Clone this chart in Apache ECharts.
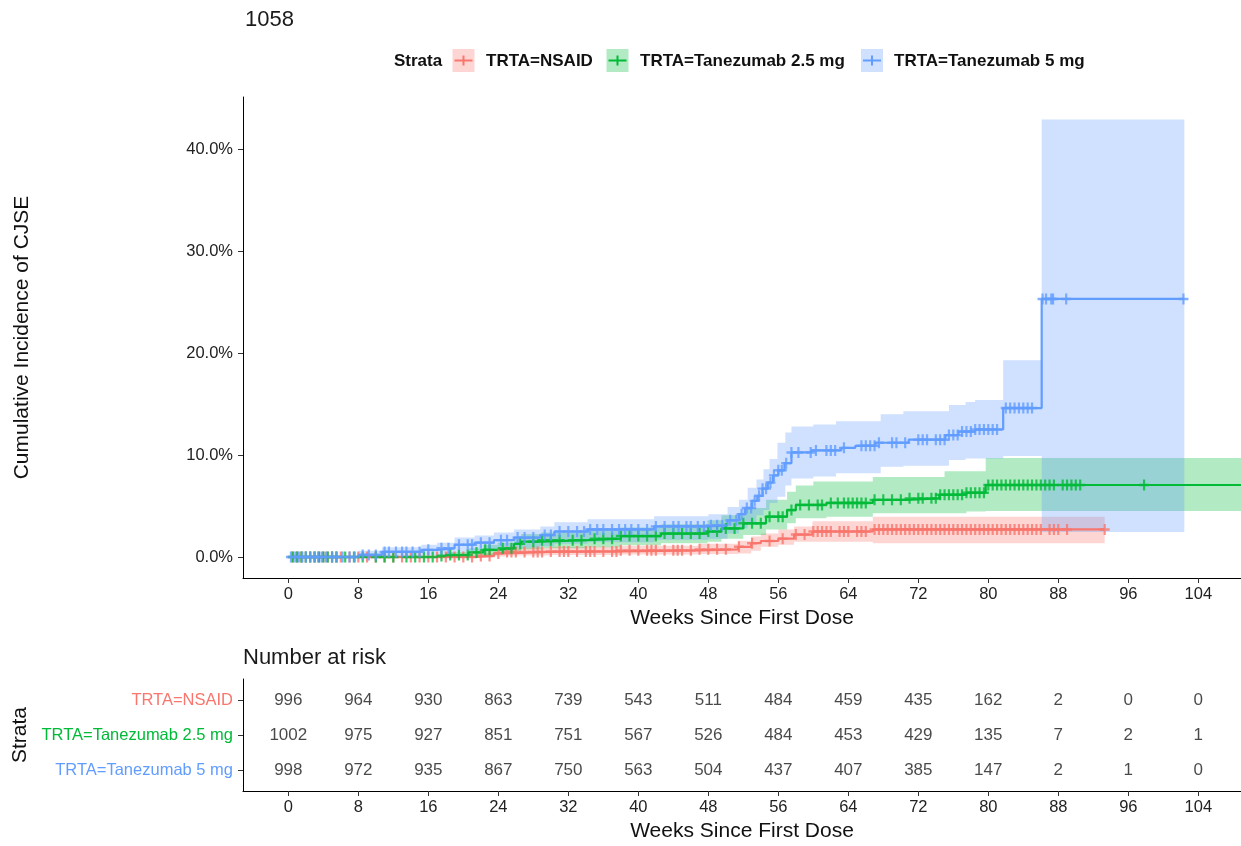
<!DOCTYPE html>
<html><head><meta charset="utf-8">
<script src="https://cdn.jsdelivr.net/npm/echarts@6/dist/echarts.min.js"></script>
<style>html,body{margin:0;padding:0;background:#fff}#c{width:1241px;height:846px}</style>
</head><body><div id="c"></div><script>
// ---------------- DATA ----------------
const strata = ['TRTA=NSAID', 'TRTA=Tanezumab 2.5 mg', 'TRTA=Tanezumab 5 mg'];
const weekTicks = [0, 8, 16, 24, 32, 40, 48, 56, 64, 72, 80, 88, 96, 104];
const pctTicks = [0, 10, 20, 30, 40];

// Number at risk
const riskNSAID = [996, 964, 930, 863, 739, 543, 511, 484, 459, 435, 162, 2, 0, 0];
const riskTan25 = [1002, 975, 927, 851, 751, 567, 526, 484, 453, 429, 135, 7, 2, 1];
const riskTan5  = [998, 972, 935, 867, 750, 563, 504, 437, 407, 385, 147, 2, 1, 0];

// Cumulative incidence step curves [week, %]
const stepNSAID = [[0,0],[21.5,0.1],[23.5,0.35],[24.8,0.5],[30,0.55],[38,0.65],[47,0.75],[51.4,1.0],[52.9,1.35],[54,1.57],[56,1.8],[57.8,2.2],[59.9,2.5],[66.8,2.7],[93.3,2.7]];
const stepTan25 = [[0,0],[17,0.1],[18,0.2],[20.6,0.45],[22.3,0.7],[23.9,0.85],[25.8,1.3],[26.6,1.5],[28.9,1.65],[34.2,1.8],[38,2.05],[42.6,2.3],[47.9,2.5],[49.5,2.8],[52,3.3],[54.6,3.95],[57,4.6],[58,5.1],[61.5,5.3],[66.8,5.6],[70.6,5.75],[74.4,6.1],[77.5,6.3],[79.7,7.06],[110,7.06]];
const stepTan5  = [[0,0],[8,0.2],[10.7,0.5],[15.2,0.7],[17,0.85],[19,1.2],[21.3,1.4],[23.5,1.65],[25.8,1.9],[28.8,2.15],[30.4,2.5],[34.2,2.7],[41.8,3.0],[48,3.1],[50.2,3.6],[51.5,4.2],[52.2,4.8],[53,5.5],[53.6,6.0],[54.2,6.7],[54.8,7.3],[55.4,8.0],[56,8.5],[56.7,9.2],[57.5,10.25],[59.8,10.45],[63.2,10.7],[64.8,10.9],[67.1,11.2],[70.9,11.5],[75.1,11.95],[76.6,12.3],[78.5,12.5],[81.7,14.6],[86.1,25.3],[102.4,25.3]];

// Confidence bands [week, lower %, upper %]
const bandNSAID = [[0,0,0],[21.5,0,0.4],[23.5,0.05,0.75],[24.8,0.15,0.9],[30,0.2,1.0],[38,0.25,1.1],[47,0.3,1.3],[51.4,0.35,1.6],[52.9,0.6,2.0],[54,1.0,2.3],[56,1.2,2.7],[57.8,1.5,3.0],[59.9,1.5,3.5],[66.8,1.35,3.95],[93.3,1.35,3.95]];
const bandTan25 = [[0,0,0],[17,0,0.3],[18,0,0.5],[20.6,0.05,0.85],[22.3,0.2,1.2],[23.9,0.3,1.4],[25.8,0.6,2.0],[26.6,0.75,2.25],[28.9,0.85,2.4],[34.2,0.95,2.6],[38,1.15,2.9],[42.6,1.35,3.2],[47.9,1.5,3.6],[49.5,1.8,4.1],[52,2.15,4.8],[54.6,2.7,5.6],[57,3.3,6.4],[58,3.8,7.0],[60,3.8,7.4],[61.5,3.95,7.4],[66.8,4.3,7.85],[75,4.3,8.4],[77.5,4.45,8.4],[79.7,4.5,9.7],[110,4.5,9.7]];
const bandTan5  = [[0,0,0],[8,0,0.6],[10.7,0.05,0.95],[15.2,0.15,1.2],[17,0.2,1.4],[19,0.45,1.9],[21.3,0.55,2.1],[23.5,0.75,2.4],[25.8,0.9,2.7],[28.8,1.05,3.0],[30.4,1.3,3.4],[34.2,1.45,3.7],[41.8,1.7,4.0],[48,1.8,4.2],[50.2,2.3,4.9],[51.5,2.8,5.6],[52.5,3.4,6.8],[53.5,4.1,7.6],[54.3,4.6,8.6],[55,5.3,9.6],[55.9,5.9,11.2],[56.8,7.0,12.2],[57.5,7.7,12.8],[60,7.9,13.0],[62.6,8.2,13.3],[67.7,8.85,14.0],[70.3,8.95,14.3],[75.5,9.5,14.9],[77.4,9.65,15.2],[78.5,9.65,15.4],[81.7,9.9,19.3],[86.1,2.45,42.9],[102.4,2.45,42.9]];

// Censoring times (weeks)
const censNSAID = [0.5,1,1.5,2,2.5,3,3.5,4,4.5,5,5.5,6,7,8,9,10,11,12,13,14,15,16,17,18,19,20,21,22,23,24,25,25.5,26,27,28,28.5,29,30,31,31.5,32,33,34,34.5,35,36,37,37.5,38,39,40,41,41.5,42,43,44,44.5,45,46,47,48,49,50,51.5,53,55,56.5,58,59,60,60.5,61,61.5,62,63,63.5,64,65,65.5,66,67,67.5,68,68.5,69,69.5,70,70.5,71,71.5,72,72.5,73,73.5,74,74.5,75,75.5,76,76.5,77,77.5,78,78.5,79,79.5,80,80.5,81,81.5,82,82.5,83,83.5,84,84.5,85,85.5,86,87,87.5,88,89,93.3];
const censTan25 = [0.5,1,1.5,2,2.5,3,3.5,4,4.5,5,5.5,6.5,7.5,8.5,10,11,12,13.5,14.5,15.5,16.5,17.5,18.5,19.5,20.5,21.5,22.5,23,24.5,25.5,26.5,28,29,30,31,32.5,33.5,35,36,37,38,39,40,41,42,43,44,45,46,47,48,49,50,51,52,53,54,55,56,56.5,57.5,58.5,59.5,60.5,61,62,62.8,63.5,64,64.5,65,65.5,66,67,68,69,70,71,72,72.5,73.5,74,74.5,75,75.5,76,76.5,77,77.5,78,78.5,79,79.5,80,80.5,81,81.5,82,82.5,83,83.5,84,84.5,85,85.5,86,86.5,87,87.5,88.5,89,89.5,90,90.5,97.8];
const censTan5  = [0.3,0.8,1.2,1.6,2,2.5,3,3.4,3.8,4.3,5,5.5,6.2,7,7.6,8.5,9.2,10,11,11.5,12.3,13,13.5,14.2,15,16,17.5,18.3,19.5,20.5,21,22,23,24.3,25,26.2,27,28,29.3,30,31,32,33,33.8,34.5,35.3,36,37,37.8,38.5,39.2,40,41,42,43,44,44.6,45.5,46,46.8,47.5,48.3,49,49.6,50.5,51.2,51.8,52.4,52.9,53.3,53.8,54.2,54.6,55.1,55.5,56,56.4,56.9,57.5,58.3,59.7,60.3,61.5,62,62.5,63.5,65.5,66,66.5,67,67.5,69,69.5,70.5,72,72.5,73,74,74.5,75,75.5,76,76.5,77,77.5,78,78.5,79,79.5,80,80.5,81,82,82.5,83,83.5,84,84.5,85,86.2,86.6,87.2,87.4,88.9,102.3];

// ---------------- STYLE ----------------
const FONT = '"Liberation Sans", Arial, sans-serif';
const colLine = ['#F8766D', '#00BA38', '#619CFF'];
const colBand = ['rgba(248,118,109,0.3)', 'rgba(0,186,56,0.3)', 'rgba(97,156,255,0.3)'];
const plusPath = 'path://M3.9,0H6.1V10H3.9Z M0,3.9H10V6.1H0Z';
const X_MIN = -5.18, X_MAX = 108.88;

function stepAt(steps, t) {
  let v = 0;
  for (const s of steps) if (s[0] <= t) v = s[1];
  return v;
}

function bandSeries(band, color) {
  return {
    type: 'custom', xAxisIndex: 0, yAxisIndex: 0, clip: true, silent: true, z: 1,
    data: band, encode: { x: 0, y: [1, 2] },
    renderItem: function (params, api) {
      if (params.dataIndex !== 0) return null;
      const up = [], lo = [];
      for (let i = 0; i < band.length; i++) {
        const t0 = band[i][0];
        const t1 = (i + 1 < band.length) ? band[i + 1][0] : band[i][0];
        up.push(api.coord([t0, band[i][2]]), api.coord([t1, band[i][2]]));
        lo.push(api.coord([t0, band[i][1]]), api.coord([t1, band[i][1]]));
      }
      return { type: 'polygon', shape: { points: up.concat(lo.reverse()) }, style: { fill: color } };
    }
  };
}
function lineSeries(steps, color) {
  return { type: 'line', step: 'end', data: steps, xAxisIndex: 0, yAxisIndex: 0,
    showSymbol: false, symbol: 'none', silent: true, clip: true, z: 2,
    lineStyle: { color: color, width: 2.2 } };
}
function censSeries(times, steps, color) {
  return { type: 'scatter', xAxisIndex: 0, yAxisIndex: 0, silent: true, z: 3,
    symbol: plusPath, symbolSize: [10, 11], itemStyle: { color: color },
    data: times.map(t => [t, stepAt(steps, t)]) };
}

const riskRows = [riskNSAID, riskTan25, riskTan5];
const riskData = [];
riskRows.forEach((row, r) => row.forEach((n, i) => riskData.push([weekTicks[i], r + 1, n])));

const axisCommonX = (grid, gap) => ({
  gridIndex: grid, type: 'value', min: X_MIN, max: X_MAX,
  axisLine: { show: true, onZero: false, lineStyle: { color: '#000', width: 1 } },
  axisTick: { show: true, length: 5, customValues: weekTicks, lineStyle: { color: '#333' } },
  axisLabel: { customValues: weekTicks, margin: 8, fontSize: 16.5, color: '#222', fontFamily: FONT },
  splitLine: { show: false },
  name: 'Weeks Since First Dose', nameLocation: 'middle', nameGap: gap,
  nameTextStyle: { fontSize: 21, color: '#111', fontFamily: FONT }
});

const legendKeys = [
  { kx: 452.5, tx: 486 },
  { kx: 606.5, tx: 640 },
  { kx: 861, tx: 894 }
];
const graphics = [
  { type: 'text', left: 245, top: 9, style: { text: '1058', fontSize: 22, fill: '#1a1a1a', fontFamily: FONT } },
  { type: 'text', left: 243, top: 647, style: { text: 'Number at risk', fontSize: 22, fill: '#1a1a1a', fontFamily: FONT } },
  { type: 'text', x: 394, y: 61, style: { text: 'Strata', fontSize: 17, fontWeight: 'bold', fill: '#111', fontFamily: FONT, verticalAlign: 'middle' } }
];
legendKeys.forEach((k, i) => {
  graphics.push({ type: 'rect', shape: { x: k.kx, y: 49, width: 22, height: 23 }, style: { fill: colBand[i] } });
  graphics.push({ type: 'line', shape: { x1: k.kx + 2, y1: 60.5, x2: k.kx + 20, y2: 60.5 }, style: { stroke: colLine[i], lineWidth: 2 } });
  graphics.push({ type: 'line', shape: { x1: k.kx + 11, y1: 55.5, x2: k.kx + 11, y2: 65.5 }, style: { stroke: colLine[i], lineWidth: 2 } });
  graphics.push({ type: 'text', x: k.tx, y: 61, style: { text: strata[i], fontSize: 17, fontWeight: 'bold', fill: '#111', fontFamily: FONT, verticalAlign: 'middle' } });
});

const option = {
  animation: false,
  backgroundColor: '#fff',
  textStyle: { fontFamily: FONT },
  graphic: graphics,
  grid: [
    { left: 243, top: 97, width: 998, height: 481, containLabel: false, outerBoundsMode: 'none' },
    { left: 243, top: 679, width: 998, height: 112, containLabel: false, outerBoundsMode: 'none' }
  ],
  xAxis: [axisCommonX(0, 28), axisCommonX(1, 30)],
  yAxis: [
    { gridIndex: 0, type: 'value', min: -2.06, max: 45.1,
      axisLine: { show: true, onZero: false, lineStyle: { color: '#000', width: 1 } },
      axisTick: { show: true, length: 5, customValues: pctTicks, lineStyle: { color: '#333' } },
      axisLabel: { customValues: pctTicks, margin: 10, fontSize: 16.5, color: '#222', fontFamily: FONT,
        formatter: v => Number(v).toFixed(1) + '%' },
      splitLine: { show: false },
      name: 'Cumulative Incidence of CJSE', nameLocation: 'middle', nameGap: 210,
      nameTextStyle: { fontSize: 21, color: '#111', fontFamily: FONT } },
    { gridIndex: 1, type: 'value', min: 0.4, max: 3.6, inverse: true,
      axisLine: { show: true, onZero: false, lineStyle: { color: '#000', width: 1 } },
      axisTick: { show: true, length: 5, customValues: [1, 2, 3], lineStyle: { color: '#333' } },
      axisLabel: { customValues: [1, 2, 3], margin: 10, fontSize: 16.5, fontFamily: FONT,
        formatter: v => '{s' + (Math.round(v) - 1) + '|' + strata[Math.round(v) - 1] + '}',
        rich: { s0: { color: colLine[0], fontSize: 16.5, fontFamily: FONT },
                s1: { color: colLine[1], fontSize: 16.5, fontFamily: FONT },
                s2: { color: colLine[2], fontSize: 16.5, fontFamily: FONT } } },
      splitLine: { show: false },
      name: 'Strata', nameLocation: 'middle', nameGap: 210,
      nameTextStyle: { fontSize: 21, color: '#111', fontFamily: FONT } }
  ],
  series: [
    bandSeries(bandNSAID, colBand[0]),
    bandSeries(bandTan25, colBand[1]),
    bandSeries(bandTan5, colBand[2]),
    lineSeries(stepNSAID, colLine[0]),
    lineSeries(stepTan25, colLine[1]),
    lineSeries(stepTan5, colLine[2]),
    censSeries(censNSAID, stepNSAID, colLine[0]),
    censSeries(censTan25, stepTan25, colLine[1]),
    censSeries(censTan5, stepTan5, colLine[2]),
    { type: 'scatter', xAxisIndex: 1, yAxisIndex: 1, silent: true, symbolSize: 1,
      itemStyle: { color: 'rgba(0,0,0,0)' }, data: riskData,
      label: { show: true, position: 'inside', formatter: p => String(p.value[2]),
        fontSize: 17, color: '#1a1a1a', fontFamily: FONT } }
  ]
};
const chart = echarts.init(document.getElementById('c'), null, { renderer: 'canvas' });
chart.setOption(option);
</script></body></html>
